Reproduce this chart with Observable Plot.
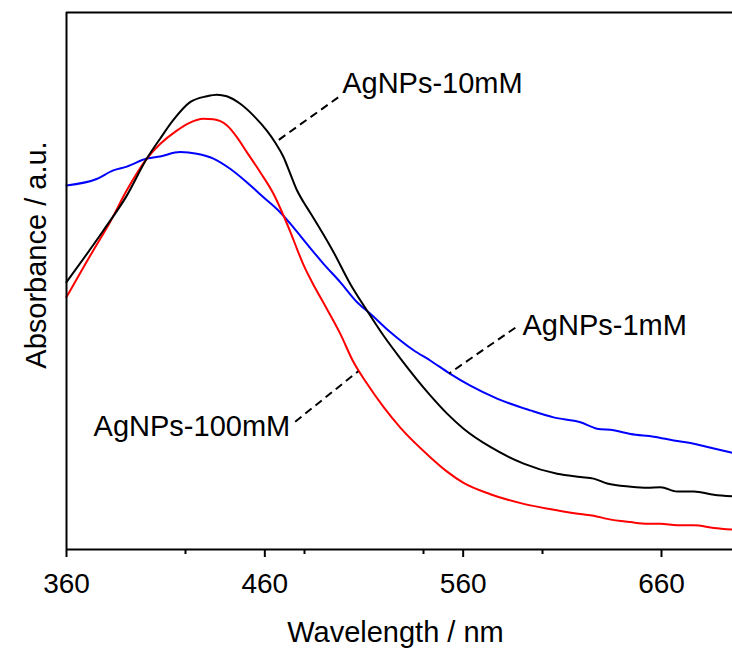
<!DOCTYPE html>
<html>
<head>
<meta charset="utf-8">
<script src="https://cdn.jsdelivr.net/npm/d3@7"></script>
<script src="https://cdn.jsdelivr.net/npm/@observablehq/plot@0.6"></script>
<style>
  html, body { margin: 0; padding: 0; background: #fff; }
  #chart { width: 732px; height: 648px; }
  #chart svg { display: block; font-family: "Liberation Sans", Arial, sans-serif; color: #000; }
</style>
</head>
<body>
<div id="chart"></div>
<script>
// ---- Data (absorbance in arbitrary units) ----
const nm10 = [360, 378.6, 390.4, 400.5, 407.2, 413.7, 422.3, 430.7, 435.8, 440.8, 447.6, 454.3, 461, 465.2, 469.4, 472.8, 476.2, 479.5, 482.9, 494.6, 503, 511.5, 519.9, 528.3, 543.4, 551.9, 560.2, 573.7, 590.5, 607.4, 619.1, 625.8, 632.6, 644.4, 652.8, 659.5, 667.9, 676.3, 686.4, 695.7];
const abs10 = [0.498, 0.594, 0.659, 0.728, 0.765, 0.799, 0.833, 0.844, 0.847, 0.844, 0.830, 0.808, 0.780, 0.758, 0.731, 0.700, 0.669, 0.647, 0.627, 0.554, 0.495, 0.445, 0.398, 0.356, 0.287, 0.253, 0.225, 0.191, 0.160, 0.141, 0.135, 0.132, 0.123, 0.117, 0.115, 0.116, 0.108, 0.108, 0.102, 0.099];

const nm100 = [360, 373.5, 382, 390.4, 400.5, 407.2, 415.6, 422.3, 429, 434.1, 440.8, 445.9, 450.9, 457.6, 464.4, 469.4, 472.8, 476.2, 479.5, 483.5, 491.3, 498, 504.7, 511.5, 519.9, 528.3, 543.4, 551.9, 560.2, 573.7, 590.5, 607.4, 619.1, 625.8, 632.6, 644.4, 652.8, 659.5, 667.9, 676.3, 686.4, 695.7];
const abs100 = [0.470, 0.557, 0.610, 0.669, 0.728, 0.755, 0.780, 0.795, 0.802, 0.801, 0.790, 0.768, 0.740, 0.703, 0.662, 0.622, 0.592, 0.560, 0.530, 0.500, 0.448, 0.402, 0.349, 0.309, 0.265, 0.227, 0.172, 0.145, 0.124, 0.103, 0.085, 0.073, 0.066, 0.063, 0.057, 0.051, 0.048, 0.048, 0.045, 0.045, 0.040, 0.037];

const nm1 = [360, 375.2, 383.6, 390.4, 400.5, 407.2, 417.3, 425.7, 434.1, 442.5, 450.9, 459.3, 467.7, 474.4, 482.1, 489.6, 498, 506.4, 513.2, 523.2, 535, 543.4, 553.5, 563.6, 577.1, 593.9, 605.6, 619.1, 627.5, 635.9, 644.4, 656.1, 666.2, 676.3, 686.4, 695.7];
const abs1 = [0.678, 0.690, 0.706, 0.713, 0.728, 0.732, 0.740, 0.737, 0.728, 0.709, 0.684, 0.656, 0.628, 0.600, 0.565, 0.532, 0.498, 0.461, 0.439, 0.405, 0.371, 0.352, 0.327, 0.305, 0.281, 0.259, 0.246, 0.237, 0.225, 0.222, 0.215, 0.210, 0.203, 0.197, 0.188, 0.180];

// Annotation labels and their dashed leaders
const labelText   = ["AgNPs-10mM", "AgNPs-1mM", "AgNPs-100mM"];
const labelNm     = [499.0, 589.9, 472.8];
const labelAbs    = [0.8665, 0.416, 0.228];
const labelAnchor = ["start", "start", "end"];
const leaderEndNm  = [497.0, 586.3, 475.3];
const leaderEndAbs = [0.842, 0.413, 0.238];
const leaderCurveNm  = [465.2, 553.0, 507.1];
const leaderCurveAbs = [0.758, 0.328, 0.332];

// Axis ticks
const majorTicks = [360, 460, 560, 660];
const minorTicks = [420, 480, 540, 600];
const xDomain = [360, 695.8];
const yDomain = [0, 1];

// ---- Build tables ----
const toRows = (xs, ys) => xs.map((x, i) => ({nm: x, abs: ys[i]}));
const rows10 = toRows(nm10, abs10);
const rows100 = toRows(nm100, abs100);
const rows1 = toRows(nm1, abs1);
const notes = labelText.map((t, i) => ({
  text: t, x: labelNm[i], y: labelAbs[i], anchor: labelAnchor[i],
  x1: leaderEndNm[i], y1: leaderEndAbs[i], x2: leaderCurveNm[i], y2: leaderCurveAbs[i]
}));

const chart = Plot.plot({
  width: 732,
  height: 648,
  marginLeft: 66,
  marginRight: 0,
  marginTop: 12,
  marginBottom: 99,
  style: {fontFamily: '"Liberation Sans", Arial, sans-serif', color: "#000", background: "#fff"},
  x: {domain: xDomain, axis: null},
  y: {domain: yDomain, axis: null},
  marks: [
    Plot.line(rows1,   {x: "nm", y: "abs", stroke: "#0000ff", strokeWidth: 2, curve: "monotone-x"}),
    Plot.line(rows100, {x: "nm", y: "abs", stroke: "#ff0000", strokeWidth: 2, curve: "monotone-x"}),
    Plot.line(rows10,  {x: "nm", y: "abs", stroke: "#000000", strokeWidth: 2, curve: "monotone-x"}),
    Plot.link(notes, {x1: "x1", y1: "y1", x2: "x2", y2: "y2", stroke: "#000", strokeWidth: 2, strokeDasharray: "8,5"}),
    Plot.text(notes.filter(d => d.anchor === "start"), {x: "x", y: "y", text: "text", textAnchor: "start", lineAnchor: "middle", fontSize: 29, fill: "#000"}),
    Plot.text(notes.filter(d => d.anchor === "end"), {x: "x", y: "y", text: "text", textAnchor: "end", lineAnchor: "middle", fontSize: 29, fill: "#000"}),
    Plot.ruleY([yDomain[0], yDomain[1]], {stroke: "#000", strokeWidth: 2}),
    Plot.ruleX([xDomain[0]], {stroke: "#000", strokeWidth: 2}),
    Plot.axisX({ticks: majorTicks, tickSize: 8, tickPadding: 16, fontSize: 28, label: null, tickFormat: d => String(d), strokeWidth: 2, stroke: "#000", fill: "#000"}),
    Plot.axisX({ticks: minorTicks, tickSize: 5, label: null, tickFormat: () => "", strokeWidth: 2, stroke: "#000"}),
    Plot.text(["Wavelength / nm"], {frameAnchor: "bottom", dy: 83, dx: -4, textAnchor: "middle", lineAnchor: "middle", fontSize: 29, fill: "#000"}),
    Plot.text(["Absorbance / a.u."], {frameAnchor: "left", rotate: -90, dx: -30, dy: -26, textAnchor: "middle", lineAnchor: "middle", fontSize: 29, fill: "#000"})
  ]
});
document.getElementById("chart").appendChild(chart);
</script>
</body>
</html>
